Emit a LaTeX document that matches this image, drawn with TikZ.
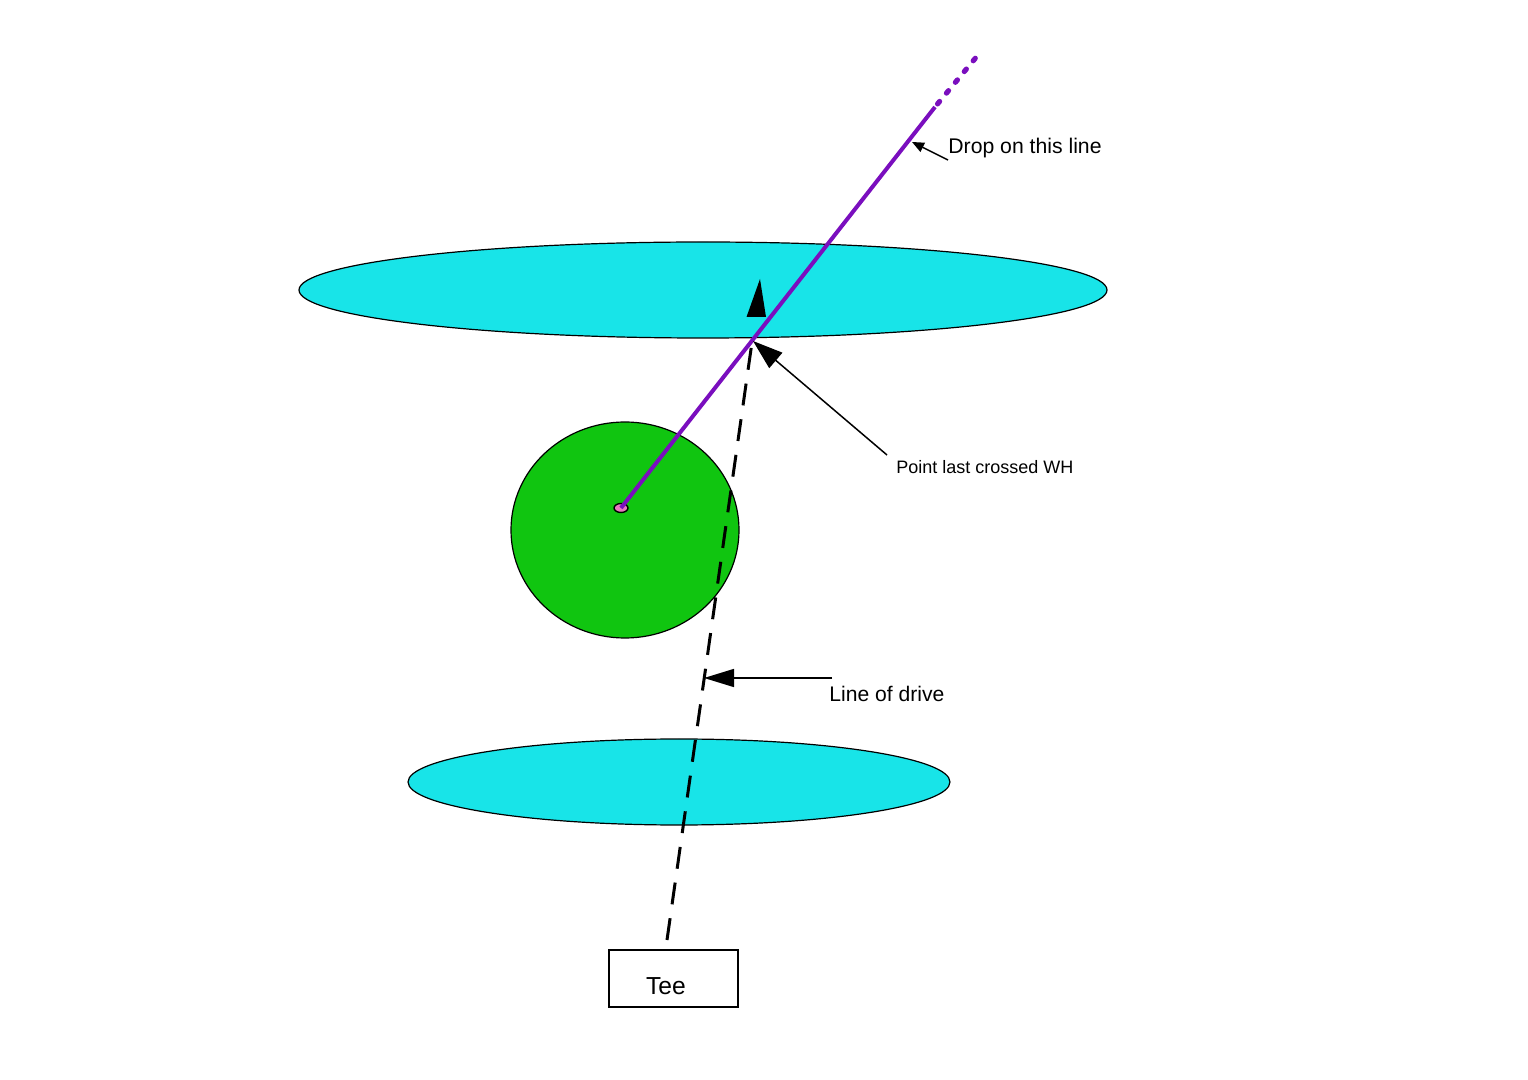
\documentclass[tikz,border=0pt]{standalone}
\usepackage{fontspec}
\setmainfont{Liberation Sans}
\usetikzlibrary{shapes.geometric,arrows.meta}
\definecolor{hazard}{RGB}{24,228,232}
\definecolor{greenc}{RGB}{16,197,16}
\definecolor{dropline}{RGB}{122,14,190}
\definecolor{pinc}{RGB}{232,120,190}
\tikzset{
  hazardbox/.style={ellipse,draw=black,line width=0.6pt,fill=hazard,inner sep=0pt},
  greenbox/.style={ellipse,draw=black,line width=0.6pt,fill=greenc,inner sep=0pt},
  pinbox/.style={ellipse,draw=black,line width=0.7pt,fill=pinc,inner sep=0pt,minimum width=7pt,minimum height=4.5pt},
  teebox/.style={draw=black,line width=0.8pt,minimum width=64.5pt,minimum height=28.5pt,inner sep=0pt},
  lbl/.style={inner sep=0pt,anchor=west},
  pointer/.style={draw=black,line width=0.75pt},
  purpleline/.style={draw=dropline,line width=2pt},
  drivepath/.style={draw=black,line width=1.5pt,dash pattern=on 11pt off 7pt}
}
\begin{document}
\begin{tikzpicture}[x=0.5pt,y=-0.5pt]
\path[use as bounding box] (0,0) rectangle (1528,1080);
% hazards and green
\node[hazardbox,minimum width=404pt,minimum height=48pt] (wh1) at (703,290) {};
\node[hazardbox,minimum width=271pt,minimum height=43pt] (wh2) at (679,782) {};
\node[greenbox,minimum width=114pt,minimum height=108pt] (green) at (625,530) {};
% tee
\node[teebox] (tee) at (673.5,978.5) {};
\node[font=\fontsize{12.3}{14}\selectfont,inner sep=0pt] (teetxt) at (666,986) {Tee};
% line of drive
\coordinate (drivestart) at (667,940);
\coordinate (driveend) at (752.3,340);
\draw[drivepath] (drivestart) -- (driveend);
\fill[black] (760,279) -- (746.5,317) -- (766,317) -- cycle;
% purple drop line
\coordinate (cross) at (753,341);
\coordinate (dotstart) at (935,107);
\coordinate (dotend) at (978,55);
\node[pinbox] (pin) at (621,508) {};
\draw[purpleline] (pin.center) -- (dotstart);
\draw[purpleline,line width=2.6pt,line cap=round,dash pattern=on 1.6pt off 5.4pt,dash phase=5pt] (dotstart) -- (dotend);
% labels
\node[lbl,font=\fontsize{10.6}{12}\selectfont] (droplbl) at (948,148) {Drop on this line};
\node[lbl,font=\fontsize{9}{11}\selectfont] (crosslbl) at (896,467) {Point last crossed WH};
\node[lbl,font=\fontsize{10.55}{12}\selectfont] (drivelbl) at (829,694) {Line of drive};
% pointers
\coordinate (dropfrom) at (948,160);
\coordinate (droptip) at (912,142);
\draw[pointer,-{Triangle[length=6pt,width=5pt]}] (dropfrom) -- (droptip);
\coordinate (crossfrom) at (887,455);
\draw[pointer,-{Triangle[length=15pt,width=10pt]}] (crossfrom) -- (cross);
\coordinate (drivefrom) at (832,678);
\coordinate (drivepoint) at (704,678);
\draw[pointer,-{Triangle[length=15pt,width=9pt]}] (drivefrom) -- (drivepoint);
\end{tikzpicture}
\end{document}
